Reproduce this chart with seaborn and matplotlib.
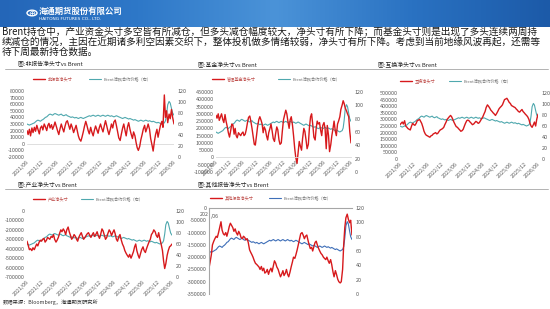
import numpy as np
import pandas as pd
import matplotlib
matplotlib.use('Agg')
import matplotlib.pyplot as plt
import seaborn as sns
from matplotlib.colors import LinearSegmentedColormap
from matplotlib.patches import Circle
from matplotlib.lines import Line2D

sns.set_theme(style='white')
plt.rcParams['font.family'] = ['Noto Sans CJK SC', 'DejaVu Sans']
plt.rcParams['axes.unicode_minus'] = False

# ---------------- data ----------------
dates = pd.date_range('2021-06-01', '2026-06-01', freq='SMS')
tick_labels = ['2021/06', '2021/12', '2022/06', '2022/12', '2023/06', '2023/12',
               '2024/06', '2024/12', '2025/06', '2025/12', '2026/06']
tick_dates = pd.to_datetime(tick_labels, format='%Y/%m')

brent = [60, 59, 58, 59, 60, 61, 62, 64, 66, 67, 66, 65,
         67, 68, 70, 72, 73, 75, 77, 78, 77, 76, 78, 79,
         78, 77, 76, 77, 78, 76, 75, 76, 77, 75, 74, 73,
         72, 73, 72, 71, 72, 71, 70, 71, 72, 71, 70, 71,
         72, 73, 74, 75, 74, 75, 76, 75, 74, 75, 76, 75,
         74, 75, 76, 75, 74, 75, 76, 75, 74, 75, 74, 73,
         74, 75, 74, 73, 72, 71, 70, 71, 72, 71, 70, 69,
         70, 69, 68, 67, 68, 67, 66, 65, 66, 67, 66, 65,
         66, 67, 66, 65, 66, 65, 64, 65, 64, 63, 62, 63,
         62, 61, 60, 61, 62, 66, 78, 95, 101, 98, 88, 80, 76]

# net positions, thousands of contracts
nonreport_k = [20, 14, 22, 12, 24, 17, 25, 19, 28, 22, 15, 24,
               27, 21, 30, 26, 20, 28, 31, 24, 29, 22, 27, 33,
               26, 20, 14, 22, 30, 24, 18, 26, 33, 35, 28, 22,
               30, 25, 17, 22, 28, 20, 12, 7, 4, 10, 18, 26,
               34, 28, 20, 15, 25, 18, 12, 20, 27, 22, 16, 24,
               30, 24, 18, 26, 35, 28, 20, 14, 22, 30, 24, 33,
               36, 28, 18, 9, 5, 14, 24, 30, 20, 12, 26, 32,
               22, 15, 8, 18, 12, 2, -6, -10, -4, 6, 14, 22,
               28, 18, 24, 30, 22, 8, -2, -11, 4, 14, 22, 10,
               20, 28, 34, 25, 74, 40, 50, 32, 45, 38, 52, 40, 30]

fund_k = [290, 270, 300, 255, 280, 300, 260, 240, 295, 250, 210, 170,
          140, 180, 230, 225, 160, 200, 150, 135, 170, 160, 150, 165,
          175, 150, 160, 190, 240, 275, 285, 250, 200, 150, 90, 85,
          150, 210, 260, 280, 255, 230, 170, 210, 190, 150, 120, 170,
          200, 230, 180, 130, 110, 160, 210, 190, 120, 90, 100, 180,
          260, 290, 325, 300, 240, 200, 260, 280, 220, 150, 60, 0,
          -40, 30, 110, 80, 50, 130, 200, 180, 120, 60, 90, 200,
          280, 300, 220, 140, 120, 200, 250, 230, 240, 190, 150, 220,
          240, 200, 60, 220, 150, 40, 90, 150, 200, 250, 180, 150,
          230, 250, 280, 330, 360, 390, 370, 340, 320, 300, 280, 180, 100]

swap_k = [260, 270, 280, 265, 290, 250, 240, 230, 225, 220, 250, 270,
          260, 255, 270, 290, 295, 300, 285, 270, 240, 210, 190, 180,
          175, 170, 165, 175, 180, 190, 195, 200, 190, 195, 210, 220,
          225, 230, 240, 260, 280, 300, 310, 320, 330, 320, 300, 280,
          260, 245, 240, 230, 220, 210, 215, 225, 250, 270, 290, 295,
          290, 280, 270, 260, 265, 275, 285, 280, 270, 275, 290, 305,
          320, 340, 360, 390, 410, 400, 385, 370, 360, 350, 340, 330,
          345, 360, 380, 390, 400, 410, 430, 450, 455, 460, 445, 430,
          420, 405, 400, 395, 390, 380, 370, 360, 355, 365, 375, 360,
          350, 340, 330, 320, 300, 270, 250, 240, 260, 280, 250, 300, 340]

industry_k = [-320, -360, -410, -400, -420, -390, -410, -380, -350, -370, -330, -310,
              -320, -300, -290, -330, -310, -280, -290, -300, -270, -280, -250, -300,
              -330, -310, -280, -240, -200, -220, -190, -210, -250, -200, -170, -220,
              -260, -300, -280, -250, -270, -300, -320, -280, -250, -230, -270, -300,
              -280, -260, -240, -230, -260, -280, -250, -230, -270, -250, -220, -260,
              -290, -250, -190, -210, -260, -300, -280, -240, -200, -220, -260, -230,
              -200, -240, -300, -320, -270, -250, -310, -350, -380, -420, -450, -470,
              -490, -460, -500, -470, -430, -380, -350, -420, -470, -500, -450, -410,
              -380, -420, -440, -400, -360, -330, -300, -250, -230, -200, -220, -260,
              -280, -230, -300, -350, -420, -530, -610, -560, -470, -420, -380, -370, -350]

other_k = [-245, -220, -190, -150, -135, -125, -115, -120, -100, -80, -56, -90,
           -105, -110, -100, -115, -95, -75, -62, -70, -80, -95, -85, -100,
           -110, -95, -105, -120, -125, -115, -120, -130, -125, -140, -170, -180,
           -190, -200, -215, -225, -230, -235, -240, -250, -238, -255, -245, -265,
           -260, -250, -270, -255, -245, -260, -235, -215, -225, -240, -250, -265,
           -280, -270, -255, -275, -265, -250, -270, -280, -260, -240, -220, -200,
           -205, -190, -170, -150, -125, -105, -100, -110, -125, -115, -110, -130,
           -150, -165, -160, -175, -155, -140, -135, -150, -165, -175, -185, -190,
           -200, -205, -210, -200, -215, -225, -210, -230, -260, -280, -255, -270,
           -290, -300, -305, -300, -250, -150, -80, -40, -25, -45, -60, -50, -110]

names = ['非报告净头寸', '管理基金净头寸', '互换净头寸', '产业净头寸', '其他报告净头寸']
titles = ['图:非报告净头寸vs Brent', '图:基金净头寸vs Brent', '图:互换净头寸vs Brent',
          '图:产业净头寸vs Brent', '图:其他报告净头寸vs Brent']
brent_label = 'Brent活跃合约价格（右）'

paragraph = ['Brent持仓中，产业资金头寸多空皆有所减仓，但多头减仓幅度较大，净头寸有所下降；而基金头寸则是出现了多头连续两周持',
             '续减仓的情况，主因在近期诸多利空因素交织下，整体投机做多情绪较弱，净头寸有所下降。考虑到当前地缘风波再起，还需等',
             '待下周最新持仓数据。']

# ---------------- layout ----------------
W, H = 550, 309
fig = plt.figure(figsize=(W / 100, H / 100), dpi=100)
fig.patch.set_facecolor('white')


def fx(x):
    return x / W


def fy(y):
    return 1 - y / H


def rect(x0, y0, x1, y1):
    return [x0 / W, 1 - y1 / H, (x1 - x0) / W, (y1 - y0) / H]


RED = '#d7191c'
TEAL = '#4fa8ae'
BLUE = '#3f6fb8'
GRAY = '#595959'

# header banner
axh = fig.add_axes(rect(0, 0, 550, 27))
cmap = LinearSegmentedColormap.from_list('hdr', ['#2466b8', '#2e78c8', '#4b93d8', '#2a72c2', '#1c5aa8'])
axh.imshow(np.linspace(0, 1, 256)[None, :], aspect='auto', cmap=cmap, extent=[0, 1, 0, 1])
axh.set_axis_off()
fig.patches.append(Circle((fx(32), fy(13)), 5 / W, transform=fig.transFigure,
                          facecolor='none', edgecolor='white', lw=1.0))
fig.text(fx(32), fy(13.3), '⊕', color='white', fontsize=6, ha='center', va='center',
         family=['DejaVu Sans'])
fig.text(fx(39), fy(11), '海通期货股份有限公司', color='white', fontsize=6,
         fontweight='bold', va='center')
fig.text(fx(39), fy(19), 'HAITONG FUTURES CO., LTD.', color='white', fontsize=3.2,
         va='center', family=['DejaVu Sans'])

# paragraph
for k, line in enumerate(paragraph):
    fig.text(fx(2), fy(32 + 10 * k), line, fontsize=6.95, color='#1a1a1a', va='center')

# separator lines
for yy in (69, 189):
    fig.add_artist(Line2D([fx(5), fx(548)], [fy(yy), fy(yy)], color='#a6a6a6', lw=0.6))

# source
fig.text(fx(3), fy(302), '数据来源：Bloomberg，海通期货研究所', fontsize=3.8, color='#333333', va='center')

panels = [
    dict(data=nonreport_k, box=(27, 91, 174, 157), ylim=(-20000, 80000), step=10000,
         title_xy=(18, 64), leg=(33, 79), colsp=3.8, c2=TEAL, mode='p1'),
    dict(data=fund_k, box=(216, 92, 351, 172), ylim=(-100000, 450000), step=50000,
         title_xy=(198, 65), leg=(212, 79), colsp=5.2, c2=TEAL, mode='zero'),
    dict(data=swap_k, box=(400, 93, 538, 159), ylim=(0, 500000), step=50000,
         title_xy=(378, 65), leg=(400, 81), colsp=3.1, c2=TEAL, mode='bottom'),
    dict(data=industry_k, box=(27, 211, 172, 277), ylim=(-700000, 0), step=100000,
         title_xy=(18, 185), leg=(33, 199), colsp=2.9, c2=TEAL, mode='bottom'),
    dict(data=other_k, box=(209, 208, 352, 294), ylim=(-350000, 0), step=50000,
         title_xy=(198, 185), leg=(210, 198), colsp=3.6, c2=BLUE, mode='top'),
]

for p, name, title in zip(panels, names, titles):
    vals = np.array(p['data']) * 1000
    ax = fig.add_axes(rect(*p['box']))
    ax2 = ax.twinx()
    sns.lineplot(x=dates, y=vals, ax=ax, color=RED, linewidth=1.0, legend=False)
    sns.lineplot(x=dates, y=brent, ax=ax2, color=p['c2'], linewidth=0.8, legend=False)
    ax.set_zorder(ax2.get_zorder() + 1)
    ax.patch.set_visible(False)

    for a in (ax, ax2):
        for s in a.spines.values():
            s.set_visible(False)

    if p['mode'] == 'p1':
        ax.axhline(0, color='#d9d9d9', lw=0.6, zorder=0)
    elif p['mode'] == 'zero':
        ax.spines['bottom'].set_position(('data', 0))
        ax.spines['bottom'].set_visible(True)
        ax.spines['bottom'].set_color('#d9d9d9')
        ax.spines['bottom'].set_linewidth(0.6)
    elif p['mode'] == 'top':
        for s in ('top', 'left'):
            ax.spines[s].set_visible(True)
            ax.spines[s].set_color('#a6a6a6')
            ax.spines[s].set_linewidth(0.8)

    ax.set_xlim(dates[0], dates[-1])
    ax.set_ylim(*p['ylim'])
    ax2.set_ylim(0, 120)
    yt = np.arange(p['ylim'][0], p['ylim'][1] + 1, p['step'])
    ax.set_yticks(yt)
    ax.set_yticklabels([f'{v:.0f}' for v in yt])
    ax2.set_yticks(np.arange(0, 121, 20))
    ax.set_xlabel('')
    ax.set_ylabel('')
    ax2.set_ylabel('')

    ax.set_xticks(tick_dates)
    ax.set_xticklabels(tick_labels, rotation=45, ha='right', rotation_mode='anchor')
    ax.tick_params(axis='both', length=0, pad=1.5, labelsize=3.9, colors=GRAY)
    ax2.tick_params(axis='y', length=0, pad=2.5, labelsize=3.9, colors=GRAY)

    if p['mode'] == 'top':
        ax.tick_params(axis='x', labelbottom=False)
        fig.text(fx(199.5), fy(215), '202', fontsize=3.9, color=GRAY, va='center')
        fig.text(fx(211), fy(216.5), '/06', fontsize=3.9, color=GRAY, va='center')

    fig.text(fx(p['title_xy'][0]), fy(p['title_xy'][1]), title, fontsize=4.2,
             color='#262626', va='center')

    handles = [ax.get_lines()[0], ax2.get_lines()[0]]
    ax.legend(handles, [name, brent_label], ncol=2, loc='center left',
              bbox_to_anchor=(fx(p['leg'][0]), fy(p['leg'][1])),
              bbox_transform=fig.transFigure, frameon=False, fontsize=3,
              handlelength=2.9, handletextpad=0.7, columnspacing=p['colsp'],
              borderpad=0, borderaxespad=0, labelcolor=['#c0504d', '#707070'])

fig.savefig('out.png', dpi=100, facecolor='white')
